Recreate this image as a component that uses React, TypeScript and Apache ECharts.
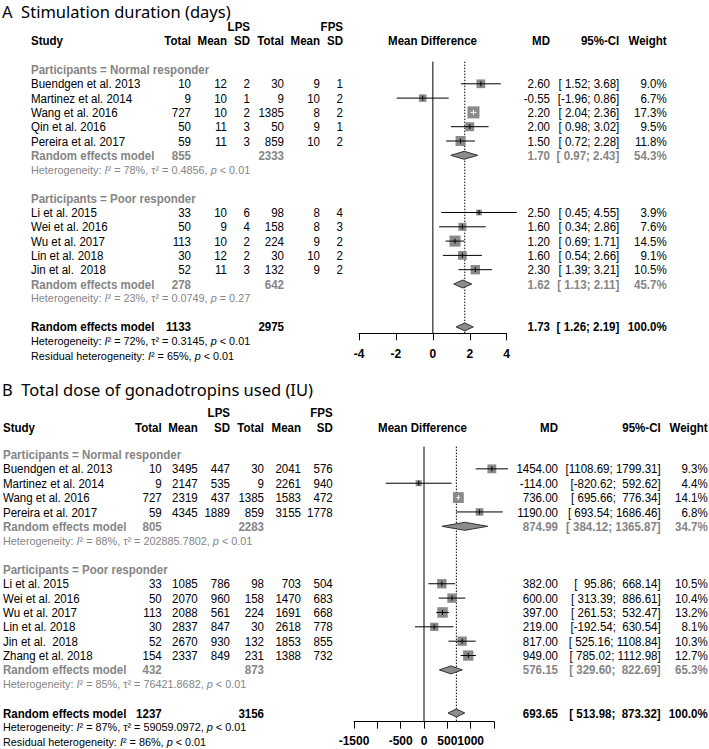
import React, { useEffect, useRef } from "react";
import * as echarts from "echarts";

// ---------------- Panel A: Stimulation duration (days) ----------------
const titleA = "A  Stimulation duration (days)";
// [study, LPS total, LPS mean, LPS SD, FPS total, FPS mean, FPS SD, MD, CI lower, CI upper, weight %]
const aNormal: any[][] = [
  ["Buendgen et al. 2013", 10, 12, 2, 30, 9, 1, 2.6, 1.52, 3.68, 9.0],
  ["Martinez et al. 2014", 9, 10, 1, 9, 10, 2, -0.55, -1.96, 0.86, 6.7],
  ["Wang et al. 2016", 727, 10, 2, 1385, 8, 2, 2.2, 2.04, 2.36, 17.3],
  ["Qin et al. 2016", 50, 11, 3, 50, 9, 1, 2.0, 0.98, 3.02, 9.5],
  ["Pereira et al. 2017", 59, 11, 3, 859, 10, 2, 1.5, 0.72, 2.28, 11.8],
];
const aPoor: any[][] = [
  ["Li et al. 2015", 33, 10, 6, 98, 8, 4, 2.5, 0.45, 4.55, 3.9],
  ["Wei et al. 2016", 50, 9, 4, 158, 8, 3, 1.6, 0.34, 2.86, 7.6],
  ["Wu et al. 2017", 113, 10, 2, 224, 9, 2, 1.2, 0.69, 1.71, 14.5],
  ["Lin et al. 2018", 30, 12, 2, 30, 10, 2, 1.6, 0.54, 2.66, 9.1],
  ["Jin et al.  2018", 52, 11, 3, 132, 9, 2, 2.3, 1.39, 3.21, 10.5],
];
// [LPS total, FPS total, MD, CI lower, CI upper, weight %]
const aNormalModel = [855, 2333, 1.7, 0.97, 2.43, 54.3];
const aPoorModel = [278, 642, 1.62, 1.13, 2.11, 45.7];
const aOverallModel = [1133, 2975, 1.73, 1.26, 2.19, 100.0];
// heterogeneity [I², tau², p]
const aNormalHet = ["78%", "0.4856", "< 0.01"];
const aPoorHet = ["23%", "0.0749", "= 0.27"];
const aOverallHet = ["72%", "0.3145", "< 0.01"];
const aResidualHet = ["65%", "< 0.01"];
const aTicks = [-4, -2, 0, 2, 4];
const aTickLabels = [-4, -2, 0, 2, 4];

// ---------------- Panel B: Total dose of gonadotropins used (IU) ----------------
const titleB = "B  Total dose of gonadotropins used (IU)";
const bNormal: any[][] = [
  ["Buendgen et al. 2013", 10, 3495, 447, 30, 2041, 576, 1454.0, 1108.69, 1799.31, 9.3],
  ["Martinez et al. 2014", 9, 2147, 535, 9, 2261, 940, -114.0, -820.62, 592.62, 4.4],
  ["Wang et al. 2016", 727, 2319, 437, 1385, 1583, 472, 736.0, 695.66, 776.34, 14.1],
  ["Pereira et al. 2017", 59, 4345, 1889, 859, 3155, 1778, 1190.0, 693.54, 1686.46, 6.8],
];
const bPoor: any[][] = [
  ["Li et al. 2015", 33, 1085, 786, 98, 703, 504, 382.0, 95.86, 668.14, 10.5],
  ["Wei et al. 2016", 50, 2070, 960, 158, 1470, 683, 600.0, 313.39, 886.61, 10.4],
  ["Wu et al. 2017", 113, 2088, 561, 224, 1691, 668, 397.0, 261.53, 532.47, 13.2],
  ["Lin et al. 2018", 30, 2837, 847, 30, 2618, 778, 219.0, -192.54, 630.54, 8.1],
  ["Jin et al.  2018", 52, 2670, 930, 132, 1853, 855, 817.0, 525.16, 1108.84, 10.3],
  ["Zhang et al. 2018", 154, 2337, 849, 231, 1388, 732, 949.0, 785.02, 1112.98, 12.7],
];
const bNormalModel = [805, 2283, 874.99, 384.12, 1365.87, 34.7];
const bPoorModel = [432, 873, 576.15, 329.6, 822.69, 65.3];
const bOverallModel = [1237, 3156, 693.65, 513.98, 873.32, 100.0];
const bNormalHet = ["88%", "202885.7802", "< 0.01"];
const bPoorHet = ["85%", "76421.8682", "< 0.01"];
const bOverallHet = ["87%", "59059.0972", "< 0.01"];
const bResidualHet = ["86%", "< 0.01"];
const bTicks = [-1500, -1000, -500, 0, 500, 1000, 1500];
const bTickLabels = [-1500, -500, 0, 500, 1000];

const groupLabels = ["Participants = Normal responder", "Participants = Poor responder"];
const colHeaders = ["Total", "Mean", "SD", "Total", "Mean", "SD"];

// ---------------- styling / layout ----------------
const GREY = "#858585";
const FONT = "'Liberation Sans', Arial, Helvetica, sans-serif";
const TITLE_FONT = "'Noto Sans', 'Open Sans', sans-serif";
const TEXT_SCALE = 0.96;
const BOX = 2.9;

const layoutA = {
  top0: 69.5, rowH: 14.3, rowMin: -0.55, rowMax: 18.45,
  gridLeft: 359, gridWidth: 147.7,
  studyX: 31, cols: [191, 227, 250, 284, 320, 343],
  lpsRow: -3, headRow: -2,
  mdHeadX: 432.5, mdX: 550, ciX: 619.3, wX: 666.7,
  titleY: 11, labelMargin: 15,
};
const layoutB = {
  top0: 454.5, rowH: 14.36, rowMin: -0.55, rowMax: 18.6,
  gridLeft: 354, gridWidth: 140,
  studyX: 3, cols: [161.7, 197.7, 230, 264, 301, 332.7],
  lpsRow: -2.9, headRow: -1.9,
  mdHeadX: 422.5, mdX: 558, ciX: 660.7, wX: 707.7,
  titleY: 389, labelMargin: 13,
};

function kindStyle(kind: string) {
  switch (kind) {
    case "head": return { fontSize: 12, fontWeight: "bold", fill: "#000" };
    case "sub": return { fontSize: 12, fontWeight: "bold", fill: GREY };
    case "model": return { fontSize: 12, fontWeight: "bold", fill: GREY };
    case "overall": return { fontSize: 12, fontWeight: "bold", fill: "#000" };
    case "hetSub": return { fontSize: 11.3, fontWeight: "normal", fill: GREY };
    case "hetAll": return { fontSize: 11.3, fontWeight: "normal", fill: "#000" };
    default: return { fontSize: 12, fontWeight: "normal", fill: "#000" };
  }
}

function buildPanel(groups: any[], overall: number[], overallHet: string[], residualHet: string[], L: any) {
  const cells: any[] = [];
  const studies: number[][] = [];
  const diamonds: number[][] = [];
  const allIntervals: number[][] = [];
  groups.forEach((g) => {
    g.rows.forEach((s: any[]) => allIntervals.push([s[8], s[9]]));
    allIntervals.push([g.model[3], g.model[4]]);
  });
  allIntervals.push([overall[3], overall[4]]);
  const loW = Math.max(...allIntervals.map((v) => v[0].toFixed(2).length));
  const hiW = Math.max(...allIntervals.map((v) => v[1].toFixed(2).length));
  const ci = (lo: number, hi: number) =>
    "[" + lo.toFixed(2).padStart(loW) + "; " + hi.toFixed(2).padStart(hiW) + "]";
  const add = (row: number, x: number, text: string, align: string, kind: string) =>
    cells.push({ row, x, text, align, kind });
  const hetText = (h: string[]) => `Heterogeneity: {i|I}² = ${h[0]}, τ² = ${h[1]}, {i|p} ${h[2]}`;

  add(L.lpsRow, L.cols[2], "LPS", "right", "head");
  add(L.lpsRow, L.cols[5], "FPS", "right", "head");
  add(L.headRow, L.studyX, "Study", "left", "head");
  colHeaders.forEach((t, i) => add(L.headRow, L.cols[i], t, "right", "head"));
  add(L.headRow, L.mdHeadX, "Mean Difference", "center", "head");
  add(L.headRow, L.mdX, "MD", "right", "head");
  add(L.headRow, L.ciX, "95%-CI", "right", "head");
  add(L.headRow, L.wX, "Weight", "right", "head");

  let r = 0;
  const modelRow = (m: number[], kind: string) => {
    add(r, L.studyX, "Random effects model", "left", kind);
    add(r, L.cols[0], String(m[0]), "right", kind);
    add(r, L.cols[3], String(m[1]), "right", kind);
    add(r, L.mdX, m[2].toFixed(2), "right", kind);
    add(r, L.ciX, ci(m[3], m[4]), "right", kind);
    add(r, L.wX, m[5].toFixed(1) + "%", "right", kind);
    diamonds.push([m[2], r, m[3], m[4]]);
  };
  groups.forEach((g) => {
    add(r, L.studyX, g.label, "left", "sub");
    r++;
    g.rows.forEach((s: any[]) => {
      add(r, L.studyX, s[0], "left", "study");
      for (let i = 0; i < 6; i++) add(r, L.cols[i], String(s[i + 1]), "right", "study");
      add(r, L.mdX, s[7].toFixed(2), "right", "study");
      add(r, L.ciX, ci(s[8], s[9]), "right", "study");
      add(r, L.wX, s[10].toFixed(1) + "%", "right", "study");
      studies.push([s[7], r, s[8], s[9], s[10]]);
      r++;
    });
    modelRow(g.model, "model");
    r++;
    add(r, L.studyX, hetText(g.het), "left", "hetSub");
    r += 2;
  });
  modelRow(overall, "overall");
  r++;
  add(r, L.studyX, hetText(overallHet), "left", "hetAll");
  r++;
  add(r, L.studyX, `Residual heterogeneity: {i|I}² = ${residualHet[0]}, {i|p} ${residualHet[1]}`, "left", "hetAll");
  return { cells, studies, diamonds, overallMd: overall[2] };
}

function panelSeries(idx: number, P: any, L: any) {
  const textSeries = {
    type: "custom", xAxisIndex: idx, yAxisIndex: idx, clip: false, silent: true, z: 5,
    data: P.cells.map((c: any) => [0, c.row]),
    renderItem: (params: any, api: any) => {
      const c = P.cells[params.dataIndex];
      const y = api.coord([0, api.value(1)])[1];
      const st = kindStyle(c.kind);
      const richBase = { fontSize: st.fontSize, fontFamily: FONT, fontWeight: st.fontWeight, fill: st.fill, fontStyle: "italic" };
      return {
        type: "text", x: c.x, y, scaleX: TEXT_SCALE,
        style: {
          text: c.text, fontSize: st.fontSize, fontFamily: FONT, fontWeight: st.fontWeight, fill: st.fill,
          align: c.align, verticalAlign: "middle", textAlign: c.align, textVerticalAlign: "middle",
          rich: { i: richBase },
        },
      };
    },
  };
  const refSeries = {
    type: "custom", xAxisIndex: idx, yAxisIndex: idx, clip: false, silent: true, z: 1,
    data: [[0, 0], [P.overallMd, 1]],
    renderItem: (params: any, api: any) => {
      const x = api.value(0);
      const a = api.coord([x, L.rowMin]);
      const b = api.coord([x, L.rowMax]);
      return {
        type: "line", shape: { x1: a[0], y1: a[1], x2: b[0], y2: b[1] },
        style: { stroke: "#000", lineWidth: 1, lineDash: api.value(1) ? [1.5, 1.5] : null },
      };
    },
  };
  const studySeries = {
    type: "custom", xAxisIndex: idx, yAxisIndex: idx, clip: false, silent: true, z: 3,
    data: P.studies,
    renderItem: (params: any, api: any) => {
      const row = api.value(1);
      const c = api.coord([api.value(0), row]);
      const l = api.coord([api.value(2), row]);
      const h = api.coord([api.value(3), row]);
      const s = BOX * Math.sqrt(api.value(4));
      const inside = h[0] - l[0] < s;
      const col = inside ? "#fff" : "#000";
      return {
        type: "group",
        children: [
          { type: "rect", shape: { x: c[0] - s / 2, y: c[1] - s / 2, width: s, height: s }, style: { fill: "#8a8a8a" } },
          { type: "line", shape: { x1: l[0], y1: c[1], x2: h[0], y2: c[1] }, style: { stroke: col, lineWidth: 1 } },
          { type: "line", shape: { x1: c[0], y1: c[1] - 2.5, x2: c[0], y2: c[1] + 2.5 }, style: { stroke: col, lineWidth: 1 } },
        ],
      };
    },
  };
  const diamondSeries = {
    type: "custom", xAxisIndex: idx, yAxisIndex: idx, clip: false, silent: true, z: 3,
    data: P.diamonds,
    renderItem: (params: any, api: any) => {
      const row = api.value(1);
      const c = api.coord([api.value(0), row]);
      const l = api.coord([api.value(2), row]);
      const h = api.coord([api.value(3), row]);
      return {
        type: "polygon",
        shape: { points: [[l[0], c[1]], [c[0], c[1] - 4], [h[0], c[1]], [c[0], c[1] + 4]] },
        style: { fill: "#8c8c8c", stroke: "#333", lineWidth: 1 },
      };
    },
  };
  return [refSeries, studySeries, diamondSeries, textSeries];
}

function xAxisFor(idx: number, ticks: number[], labels: number[], L: any) {
  return {
    gridIndex: idx, type: "value", min: ticks[0], max: ticks[ticks.length - 1], interval: ticks[1] - ticks[0],
    axisLine: { show: true, onZero: false, lineStyle: { color: "#000", width: 1 } },
    axisTick: { show: true, inside: false, length: 7, lineStyle: { color: "#000", width: 1 } },
    axisLabel: {
      show: true, color: "#000", fontSize: 12, fontWeight: "bold", fontFamily: FONT, margin: L.labelMargin,
      formatter: (v: number) => (labels.includes(v) ? String(v) : ""),
    },
    splitLine: { show: false },
  };
}

function gridFor(L: any) {
  return {
    left: L.gridLeft, width: L.gridWidth,
    top: L.top0 + L.rowMin * L.rowH, height: (L.rowMax - L.rowMin) * L.rowH,
    containLabel: false, outerBoundsMode: "none", show: false,
  };
}

export default function App() {
  const ref = useRef<HTMLDivElement>(null);
  useEffect(() => {
    if (!ref.current) return;
    const chart = echarts.init(ref.current, null, { renderer: "svg" });
    const PA = buildPanel(
      [
        { label: groupLabels[0], rows: aNormal, model: aNormalModel, het: aNormalHet },
        { label: groupLabels[1], rows: aPoor, model: aPoorModel, het: aPoorHet },
      ],
      aOverallModel, aOverallHet, aResidualHet, layoutA
    );
    const PB = buildPanel(
      [
        { label: groupLabels[0], rows: bNormal, model: bNormalModel, het: bNormalHet },
        { label: groupLabels[1], rows: bPoor, model: bPoorModel, het: bPoorHet },
      ],
      bOverallModel, bOverallHet, bResidualHet, layoutB
    );
    const option: any = {
      animation: false,
      backgroundColor: "#fff",
      grid: [gridFor(layoutA), gridFor(layoutB)],
      xAxis: [xAxisFor(0, aTicks, aTickLabels, layoutA), xAxisFor(1, bTicks, bTickLabels, layoutB)],
      yAxis: [
        { gridIndex: 0, type: "value", min: layoutA.rowMin, max: layoutA.rowMax, inverse: true, show: false },
        { gridIndex: 1, type: "value", min: layoutB.rowMin, max: layoutB.rowMax, inverse: true, show: false },
      ],
      graphic: [
        { type: "text", x: 2, y: layoutA.titleY, style: { text: titleA, fontSize: 16.5, fontFamily: TITLE_FONT, fill: "#000", verticalAlign: "middle", textVerticalAlign: "middle" } },
        { type: "text", x: 2, y: layoutB.titleY, style: { text: titleB, fontSize: 16.5, fontFamily: TITLE_FONT, fill: "#000", verticalAlign: "middle", textVerticalAlign: "middle" } },
      ],
      series: [...panelSeries(0, PA, layoutA), ...panelSeries(1, PB, layoutB)],
    };
    chart.setOption(option);
    return () => chart.dispose();
  }, []);
  return (
    <div
      ref={ref}
      style={{ position: "fixed", left: 0, top: 0, width: 709, height: 749, background: "#fff" }}
    />
  );
}
